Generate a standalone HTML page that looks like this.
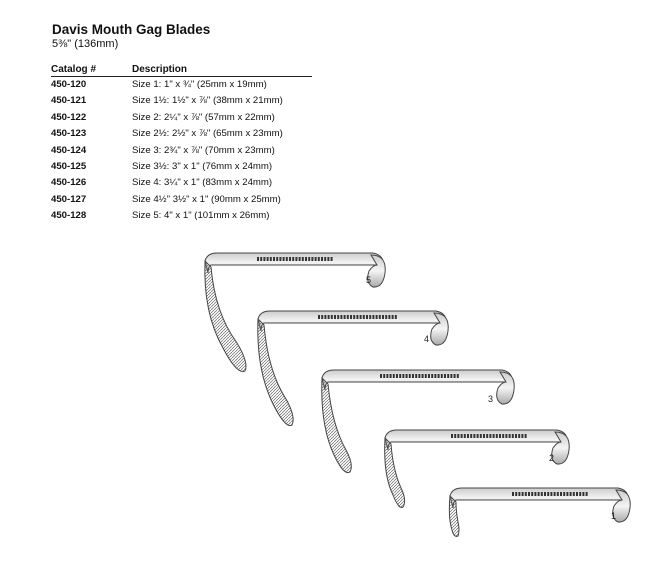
<!DOCTYPE html>
<html><head><style>
body{margin:0;width:664px;height:564px;background:#fff;position:relative;font-family:"Liberation Sans",sans-serif;color:#111;overflow:hidden}
.t{position:absolute;left:52px;top:22px;font-size:13.5px;font-weight:bold}
.s{position:absolute;left:52px;top:38px;font-size:11px}
table{position:absolute;left:51px;top:63px;border-collapse:collapse;font-size:9.6px}
td{padding:0;height:16.4px;line-height:16.4px}
td:first-child{width:81px;font-weight:bold}
th{text-align:left;font-size:10px;padding:0;height:13px;border-bottom:1px solid #222}
svg{position:absolute;left:0;top:0}
</style></head><body>
<div class="t">Davis Mouth Gag Blades</div>
<div class="s">5⅜" (136mm)</div>
<table>
<tr><th>Catalog #</th><th style="width:180px">Description</th></tr>
<tr><td>450-120</td><td>Size 1: 1" x ¾" (25mm x 19mm)</td></tr>
<tr><td>450-121</td><td>Size 1½: 1½" x ⅞" (38mm x 21mm)</td></tr>
<tr><td>450-122</td><td>Size 2: 2¼" x ⅞" (57mm x 22mm)</td></tr>
<tr><td>450-123</td><td>Size 2½: 2½" x ⅞" (65mm x 23mm)</td></tr>
<tr><td>450-124</td><td>Size 3: 2¾" x ⅞" (70mm x 23mm)</td></tr>
<tr><td>450-125</td><td>Size 3½: 3" x 1" (76mm x 24mm)</td></tr>
<tr><td>450-126</td><td>Size 4: 3¼" x 1" (83mm x 24mm)</td></tr>
<tr><td>450-127</td><td>Size 4½" 3½" x 1" (90mm x 25mm)</td></tr>
<tr><td>450-128</td><td>Size 5: 4" x 1" (101mm x 26mm)</td></tr>
</table>
<svg width="664" height="564" viewBox="0 0 664 564">
<defs>
<linearGradient id="g" x1="0" y1="0" x2="0" y2="1"><stop offset="0" stop-color="#ccc"/><stop offset=".5" stop-color="#f4f4f4"/><stop offset="1" stop-color="#aaa"/></linearGradient>
<pattern id="h" width="3" height="3" patternUnits="userSpaceOnUse"><path d="M0 3L3 0" stroke="#666" stroke-width=".7"/></pattern>
</defs>
<g stroke="#444" stroke-width="1" fill="url(#g)">
<g transform="translate(205,253)">
<path d="M0 8 Q2 0 12 0 L168 0 Q178 2 178 10 L172 12 L6 12 Q3 14 3 20 Z"/>
<path d="M166 2 Q182 2 180 20 Q178 35 168 34 Q160 30 164 18 Q168 12 172 12 Z"/>
<path d="M0 8 Q-2 60 18 95 Q32 122 40 118 Q44 110 32 90 Q10 60 6 14 Z" fill="url(#h)"/>
<line x1="52" y1="6" x2="128" y2="6" stroke="#333" stroke-width="4" stroke-dasharray="2 1.2"/>
</g>
<g transform="translate(258,311)">
<path d="M0 8 Q2 0 12 0 L178 0 Q188 2 188 10 L182 12 L6 12 Q3 14 3 20 Z"/>
<path d="M176 2 Q192 2 190 20 Q188 35 178 34 Q170 30 174 18 Q178 12 182 12 Z"/>
<path d="M0 8 Q-2 60 16 95 Q28 118 34 114 Q38 106 28 88 Q10 60 6 14 Z" fill="url(#h)"/>
<line x1="60" y1="6" x2="140" y2="6" stroke="#333" stroke-width="4" stroke-dasharray="2 1.2"/>
</g>
<g transform="translate(322,370)">
<path d="M0 8 Q2 0 12 0 L180 0 Q190 2 190 10 L184 12 L6 12 Q3 14 3 20 Z"/>
<path d="M178 2 Q194 2 192 20 Q190 35 180 34 Q172 30 176 18 Q180 12 184 12 Z"/>
<path d="M0 8 Q-2 55 12 85 Q22 106 28 102 Q32 95 24 80 Q10 55 6 14 Z" fill="url(#h)"/>
<line x1="58" y1="6" x2="138" y2="6" stroke="#333" stroke-width="4" stroke-dasharray="2 1.2"/>
</g>
<g transform="translate(385,430)">
<path d="M0 8 Q2 0 12 0 L172 0 Q182 2 182 10 L176 12 L6 12 Q3 14 3 20 Z"/>
<path d="M170 2 Q186 2 184 20 Q182 35 172 34 Q164 30 168 18 Q172 12 176 12 Z"/>
<path d="M0 8 Q-2 45 8 65 Q14 80 18 77 Q22 70 16 58 Q8 40 6 14 Z" fill="url(#h)"/>
<line x1="66" y1="6" x2="142" y2="6" stroke="#333" stroke-width="4" stroke-dasharray="2 1.2"/>
</g>
<g transform="translate(450,488)">
<path d="M0 8 Q2 0 12 0 L168 0 Q178 2 178 10 L172 12 L6 12 Q3 14 3 20 Z"/>
<path d="M166 2 Q182 2 180 20 Q178 35 168 34 Q160 30 164 18 Q168 12 172 12 Z"/>
<path d="M0 8 Q-2 30 2 42 Q4 50 8 48 Q10 42 8 34 Q6 24 6 14 Z" fill="url(#h)"/>
<line x1="62" y1="6" x2="138" y2="6" stroke="#333" stroke-width="4" stroke-dasharray="2 1.2"/>
</g>
</g>
<g font-family="Liberation Sans" font-size="9" fill="#222">
<text x="366" y="283">5</text><text x="424" y="342">4</text><text x="488" y="402">3</text><text x="549" y="461">2</text><text x="611" y="519">1</text>
</g>
</svg>
</body></html>
